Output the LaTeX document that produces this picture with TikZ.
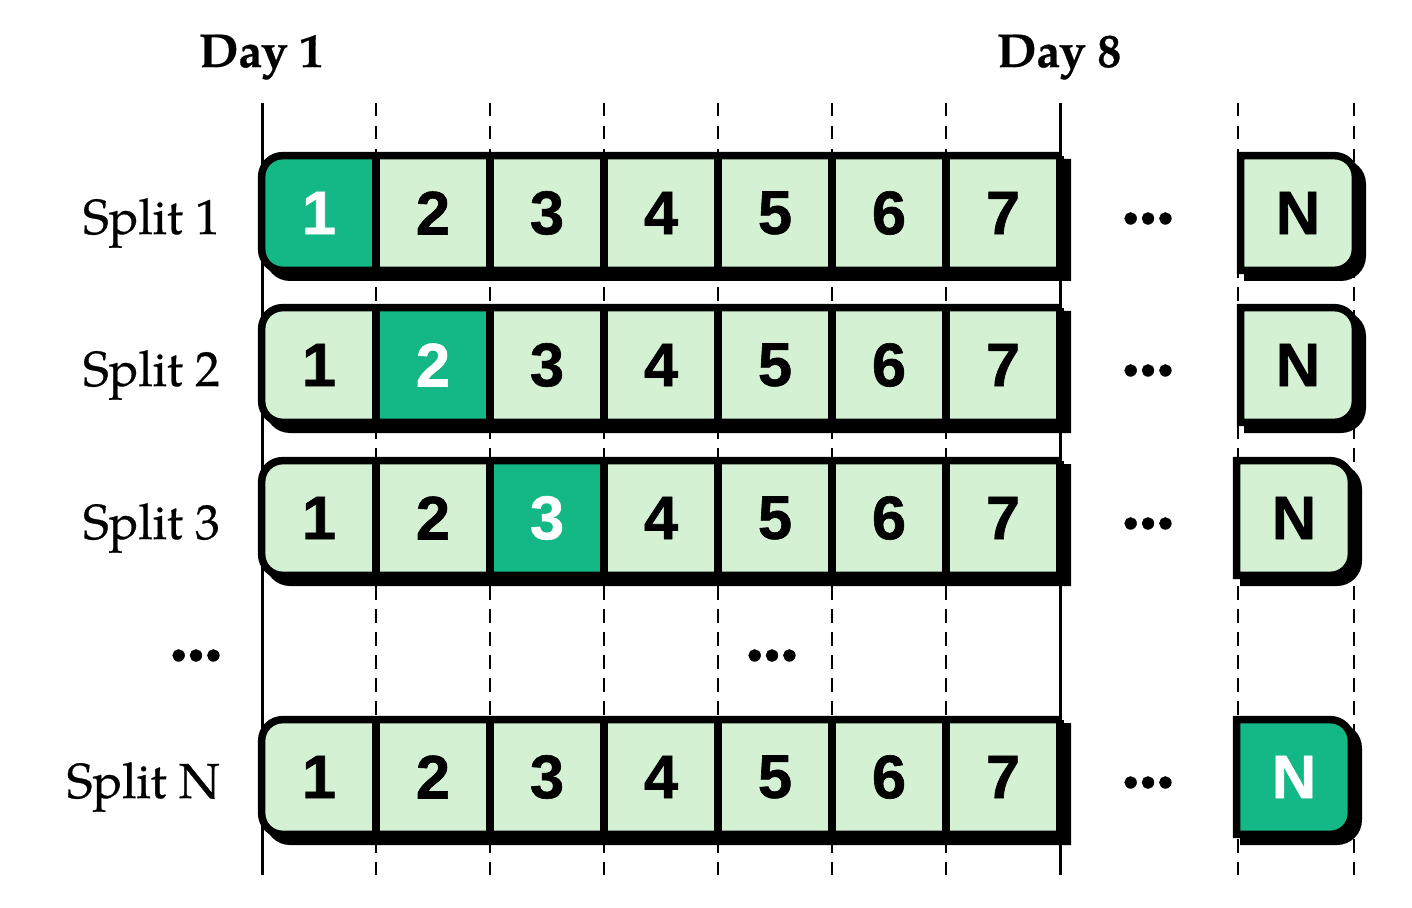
\documentclass[tikz,border=0pt]{standalone}
\usepackage{fontspec}
\usepackage{tikz}
\usetikzlibrary{positioning, calc}

\newfontfamily\cellfont[FakeBold=1]{Liberation Sans}
\newfontfamily\labelfont[FakeBold=0.6]{TeX Gyre Pagella}
\definecolor{splitdark}{HTML}{14B886}
\definecolor{splitlight}{HTML}{D4F2D3}

\begin{document}
\begin{tikzpicture}[
    x=0.2mm, y=-0.2mm,
    cell/.style={rectangle, fill=splitlight, minimum width=22.8mm, minimum height=22.8mm, inner sep=0pt, font=\cellfont\bfseries\fontsize{35pt}{35pt}\selectfont},
    test cell/.style={cell, fill=splitdark, text=white},
    box border/.style={draw=black, line width=1.5mm},
    divider/.style={draw=black, line width=1.6mm},
    shadow/.style={fill=black},
    day line/.style={draw=black, line width=0.6mm},
    guide line/.style={draw=black, line width=0.55mm, dash pattern=on 2.7mm off 1.9mm},
    split label/.style={anchor=base east, font=\labelfont\fontsize{28pt}{28pt}\selectfont},
    day label/.style={anchor=base, font=\labelfont\bfseries\fontsize{27pt}{27pt}\selectfont},
    dots/.style={anchor=base, font=\cellfont\fontsize{25pt}{25pt}\selectfont}
]

\useasboundingbox (0,0) rectangle (1412,908);

% --- Day labels ---
\node[day label] (day1) at (261,67) {Day 1};
\node[day label] (day8) at (1059,67) {Day 8};

% --- Day lines and guide lines, behind the boxes ---
\foreach \x in {262, 1060} {
    \draw[day line] (\x,103) -- (\x,875);
}
\foreach \x in {376, 490, 604, 718, 832, 946, 1238, 1354} {
    \draw[guide line] (\x,103) -- (\x,875);
}

% --- One row per split: cells 1..7, then the N box ---
\foreach \r/\yc/\test/\nx in {1/213/1/1241, 2/365/2/1241, 3/518/3/1237, N/777/8/1237} {

    \node[split label] (split\r) at (226,\yc+21) {Split \r};

    % shadows
    \fill[shadow] (1071,\yc-54) [rounded corners=5mm] -- (265,\yc-54) -- (265,\yc+68) [sharp corners] -- (1071,\yc+68) -- cycle;
    \fill[shadow] (\nx+3,\yc+68) -- (\nx+3,\yc-54) [rounded corners=5mm] -- (\nx+125,\yc-54) -- (\nx+125,\yc+68) [sharp corners] -- cycle;

    % cells
    \begin{scope}
        \clip (1060,\yc-57) [rounded corners=4.2mm] -- (262,\yc-57) -- (262,\yc+57) [sharp corners] -- (1060,\yc+57) -- cycle;
        \foreach \c in {1,...,7} {
            \ifnum\c=\test \def\cellstyle{test cell}\else\def\cellstyle{cell}\fi
            \node[\cellstyle] (s\r-\c) at ({262+114*(\c-0.5)},\yc) {\c};
        }
    \end{scope}
    \begin{scope}
        \clip (\nx,\yc+57) -- (\nx,\yc-57) [rounded corners=4.2mm] -- (\nx+114,\yc-57) -- (\nx+114,\yc+57) [sharp corners] -- cycle;
        \ifnum\test=8 \def\cellstyle{test cell}\else\def\cellstyle{cell}\fi
        \node[\cellstyle] (s\r-N) at (\nx+57,\yc) {N};
    \end{scope}

    % dividers and borders
    \foreach \c in {1,...,7} {
        \draw[divider] (s\r-\c.north east) -- (s\r-\c.south east);
    }
    \draw[box border] (s\r-7.north east) [rounded corners=4.2mm] -- (s\r-1.north west) -- (s\r-1.south west) [sharp corners] -- (s\r-7.south east);
    \draw[box border] (s\r-N.south west) -- (s\r-N.north west) [rounded corners=4.2mm] -- (s\r-N.north east) -- (s\r-N.south east) [sharp corners] -- cycle;

    \node[dots] (dots\r) at (1148,\yc+20) {•\kern0.4mm•\kern0.4mm•};
}

% --- Rows left out ---
\node[dots] (dotsleft) at (196,670) {•\kern0.4mm•\kern0.4mm•};
\node[dots] (dotsmid) at (772,670) {•\kern0.4mm•\kern0.4mm•};

\end{tikzpicture}
\end{document}
